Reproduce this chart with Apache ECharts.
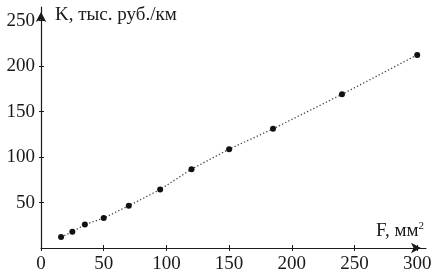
<!DOCTYPE html>
<html>
<head>
<meta charset="utf-8">
<script src="https://cdn.jsdelivr.net/npm/echarts@6/dist/echarts.min.js"></script>
<style>
html,body{margin:0;padding:0;background:#fff;}
#c{width:435px;height:276px;}
</style>
</head>
<body>
<div id="c"></div>
<script>
// Data
const crossSection = [16, 25, 35, 50, 70, 95, 120, 150, 185, 240, 300];   // F, мм²
const costPerKm    = [12, 17.8, 25.8, 32.9, 46.4, 64.3, 86.7, 108.7, 131, 169, 212.3]; // K, тыс. руб./км
const xTicks = [0, 50, 100, 150, 200, 250, 300];
const yTicks = [50, 100, 150, 200, 250];

const FONT = '"Liberation Serif", "DejaVu Serif", serif';
const INK = '#1a1a1a';

const chart = echarts.init(document.getElementById('c'), null, {renderer: 'canvas'});

const xMax = 307;
const yMax = 265;

const baseX = {
  type: 'value', min: 0, max: xMax, gridIndex: 0, position: 'bottom',
  splitLine: {show: false}
};
const baseY = {
  type: 'value', min: 0, max: yMax, gridIndex: 0, position: 'left',
  splitLine: {show: false}
};

const option = {
  animation: false,
  backgroundColor: '#fff',
  grid: {left: 41, right: 9, top: 7, bottom: 28},
  xAxis: [
    Object.assign({}, baseX, {
      name: 'F, мм{sup|2}',
      nameLocation: 'end',
      nameGap: 0,
      nameTextStyle: {
        fontFamily: FONT, fontSize: 19, color: INK,
        align: 'right', verticalAlign: 'bottom', padding: [0, 2, 7, 0],
        rich: {sup: {fontFamily: FONT, fontSize: 11, color: INK, verticalAlign: 'top', padding: [0, 0, 9, 0]}}
      },
      axisLine: {show: true, lineStyle: {color: INK, width: 1.2},
        symbol: ['none', 'arrow'], symbolSize: [8, 10], symbolOffset: [0, -5]},
      axisTick: {show: true, inside: true, length: 3, lineStyle: {color: INK}, customValues: xTicks},
      axisLabel: {show: true, margin: 7, fontFamily: FONT, fontSize: 19, color: INK, customValues: xTicks}
    }),
    Object.assign({}, baseX, {
      axisLine: {show: false},
      axisTick: {show: true, inside: false, length: 3, lineStyle: {color: INK}, customValues: xTicks},
      axisLabel: {show: false}
    })
  ],
  yAxis: [
    Object.assign({}, baseY, {
      name: 'K, тыс. руб./км',
      nameLocation: 'end',
      nameGap: -8,
      nameTextStyle: {
        fontFamily: FONT, fontSize: 19, color: INK,
        align: 'left', verticalAlign: 'middle', padding: [0, 0, 0, 14]
      },
      axisLine: {show: true, lineStyle: {color: INK, width: 1.2},
        symbol: ['none', 'arrow'], symbolSize: [8, 10], symbolOffset: [0, -5]},
      axisTick: {show: true, inside: true, length: 3, lineStyle: {color: INK}, customValues: yTicks},
      axisLabel: {show: true, margin: 6, fontFamily: FONT, fontSize: 19, color: INK, customValues: yTicks}
    }),
    Object.assign({}, baseY, {
      axisLine: {show: false},
      axisTick: {show: true, inside: false, length: 2, lineStyle: {color: INK}, customValues: yTicks},
      axisLabel: {show: false}
    })
  ],
  series: [{
    type: 'line',
    xAxisIndex: 0, yAxisIndex: 0,
    data: crossSection.map((f, i) => [f, costPerKm[i]]),
    symbol: 'circle',
    symbolSize: 6,
    itemStyle: {color: '#111'},
    lineStyle: {color: '#444', width: 1.3, type: [1.3, 2.2]}
  }]
};
chart.setOption(option);
</script>
</body>
</html>
